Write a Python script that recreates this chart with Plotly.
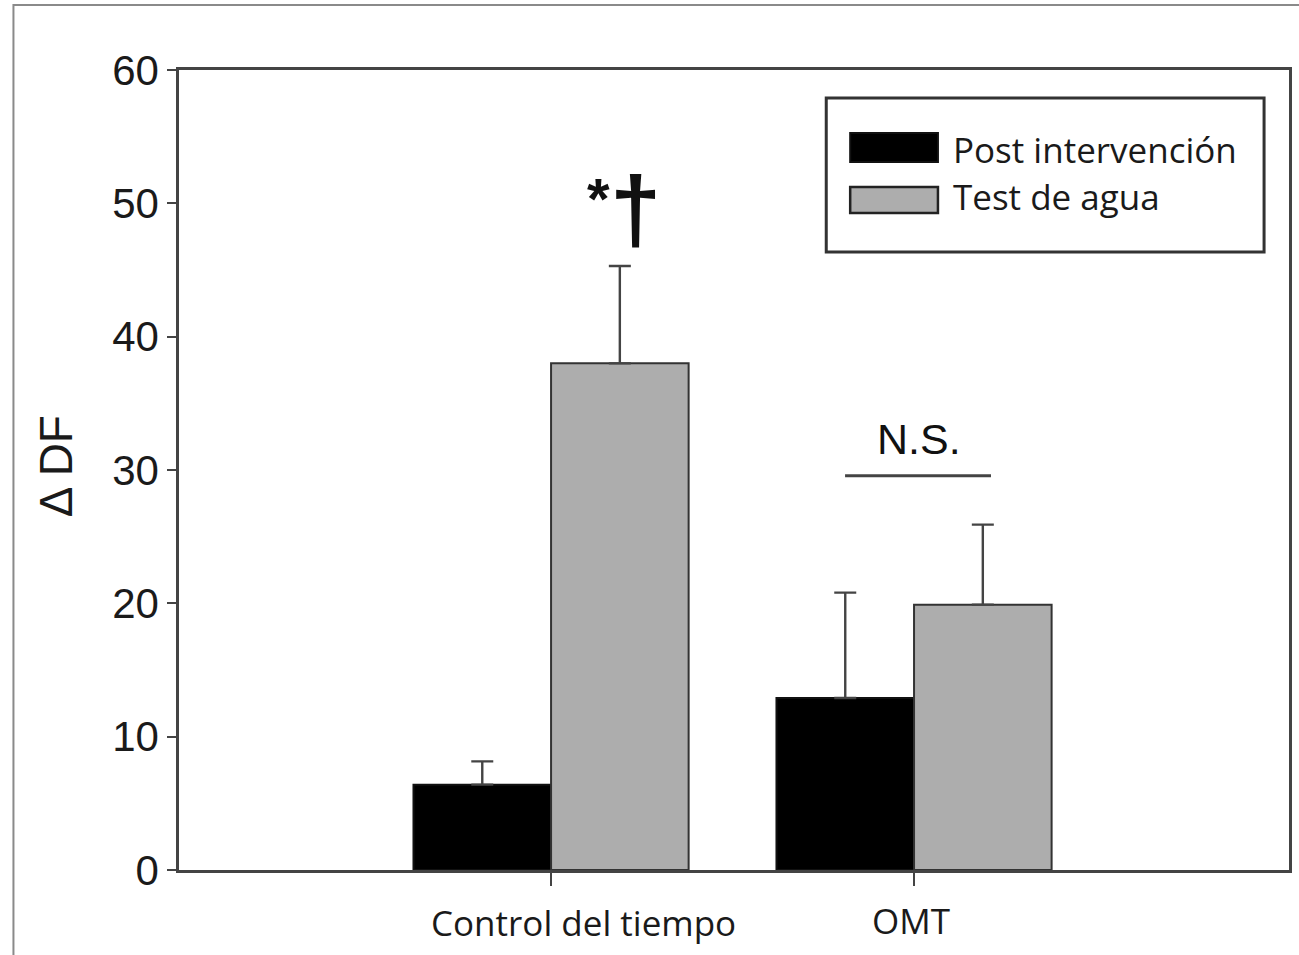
import plotly.graph_objects as go

# ---- data ----
categories = ["Control del tiempo", "OMT"]
series_names = ["Post intervención", "Test de agua"]
post_values = [6.4, 12.9]
post_errors = [1.75, 7.9]
water_values = [38.0, 19.9]
water_errors = [7.3, 6.0]
y_ticks = [0, 10, 20, 30, 40, 50, 60]

# ---- layout geometry (pixels) ----
W, H = 1299, 955
L, R, T, B = 179, 1292, 70, 870
PW, PH = R - L, B - T

def px(x):
    return (x - L) / PW

def py(y):
    return (B - y) / PH

AX = "#444444"
GRAY = "#adadad"
bar_w = 0.379

fig = go.Figure()
fig.add_trace(go.Bar(
    x=[0, 1], y=post_values, name=series_names[0],
    width=bar_w, offset=-bar_w,
    marker=dict(color="#000000", line=dict(color="#111111", width=2)),
    error_y=dict(type="data", array=post_errors, arrayminus=[0, 0], symmetric=False,
                 color=AX, thickness=2.4, width=11),
    showlegend=False,
))
fig.add_trace(go.Bar(
    x=[0, 1], y=water_values, name=series_names[1],
    width=bar_w, offset=0,
    marker=dict(color=GRAY, line=dict(color="#333333", width=2)),
    error_y=dict(type="data", array=water_errors, arrayminus=[0, 0], symmetric=False,
                 color=AX, thickness=2.4, width=11),
    showlegend=False,
))

shapes = []
annotations = []

# outer frame (left & top visible)
shapes.append(dict(type="rect", xref="paper", yref="paper",
                   x0=px(13), x1=px(1310), y0=py(970), y1=py(5),
                   line=dict(color="#8a8a8a", width=2), fillcolor="rgba(0,0,0,0)", layer="below"))

# legend box
shapes.append(dict(type="rect", xref="paper", yref="paper",
                   x0=px(828), x1=px(1267), y0=py(252), y1=py(98),
                   line=dict(color="#333333", width=3), fillcolor="white"))
shapes.append(dict(type="rect", xref="paper", yref="paper",
                   x0=px(852), x1=px(940), y0=py(162), y1=py(133),
                   line=dict(color="#111111", width=2), fillcolor="#000000"))
shapes.append(dict(type="rect", xref="paper", yref="paper",
                   x0=px(852), x1=px(940), y0=py(213), y1=py(187),
                   line=dict(color="#222222", width=2.5), fillcolor=GRAY))
annotations.append(dict(xref="paper", yref="paper", x=px(953), y=py(149),
                        text=series_names[0], showarrow=False, xanchor="left", yanchor="middle",
                        font=dict(family="Open Sans", size=35, color="#1a1a1a")))
annotations.append(dict(xref="paper", yref="paper", x=px(953), y=py(197),
                        text=series_names[1], showarrow=False, xanchor="left", yanchor="middle",
                        font=dict(family="Open Sans", size=35, color="#1a1a1a")))

# significance marks
annotations.append(dict(xref="x", yref="y", x=0.132, y=50.4, text="<b>*</b>", showarrow=False,
                        xanchor="center", yanchor="middle",
                        font=dict(family="Liberation Sans", size=58, color="#111111")))
annotations.append(dict(xref="x", yref="y", x=0.234, y=49.6, text="<b>†</b>", showarrow=False,
                        xanchor="center", yanchor="middle",
                        font=dict(family="Liberation Sans", size=92, color="#111111")))
annotations.append(dict(xref="x", yref="y", x=1.014, y=32.3, text="N.S.", showarrow=False,
                        xanchor="center", yanchor="middle",
                        font=dict(family="Liberation Sans", size=43, color="#111111")))
shapes.append(dict(type="line", xref="x", yref="y", x0=0.810, x1=1.212, y0=29.57, y1=29.57,
                   line=dict(color=AX, width=3)))

# x category labels
annotations.append(dict(xref="x", yref="paper", x=0.0907, y=py(922), text=categories[0],
                        showarrow=False, xanchor="center", yanchor="middle",
                        font=dict(family="Open Sans", size=35, color="#1a1a1a")))
annotations.append(dict(xref="x", yref="paper", x=0.992, y=py(920), text=categories[1],
                        showarrow=False, xanchor="center", yanchor="middle",
                        font=dict(family="Open Sans", size=35, color="#1a1a1a")))

# y title
annotations.append(dict(xref="paper", yref="paper", x=px(56), y=py(466), text="Δ DF",
                        showarrow=False, textangle=-90, xanchor="center", yanchor="middle",
                        font=dict(family="Liberation Sans", size=46, color="#1a1a1a")))

fig.update_layout(
    width=W, height=H,
    margin=dict(l=L, r=W - R, t=T, b=H - B, pad=0),
    paper_bgcolor="white", plot_bgcolor="white",
    barmode="overlay",
    shapes=shapes, annotations=annotations,
    showlegend=False,
)
fig.update_xaxes(
    range=[-1.025, 2.033], tickvals=[0, 1], showticklabels=False,
    ticks="outside", ticklen=13, tickwidth=2, tickcolor=AX,
    showline=True, linecolor=AX, linewidth=2.5, mirror=True,
    showgrid=False, zeroline=False, fixedrange=True,
)
fig.update_yaxes(
    range=[0, 60], tickvals=y_ticks, ticktext=[str(v) for v in y_ticks],
    ticks="outside", ticklen=9, tickwidth=2, tickcolor=AX,
    tickfont=dict(family="Liberation Sans", size=42, color="#1a1a1a"),
    showline=True, linecolor=AX, linewidth=2.5, mirror=True,
    showgrid=False, zeroline=False, fixedrange=True,
)

fig.write_html("out.html")
